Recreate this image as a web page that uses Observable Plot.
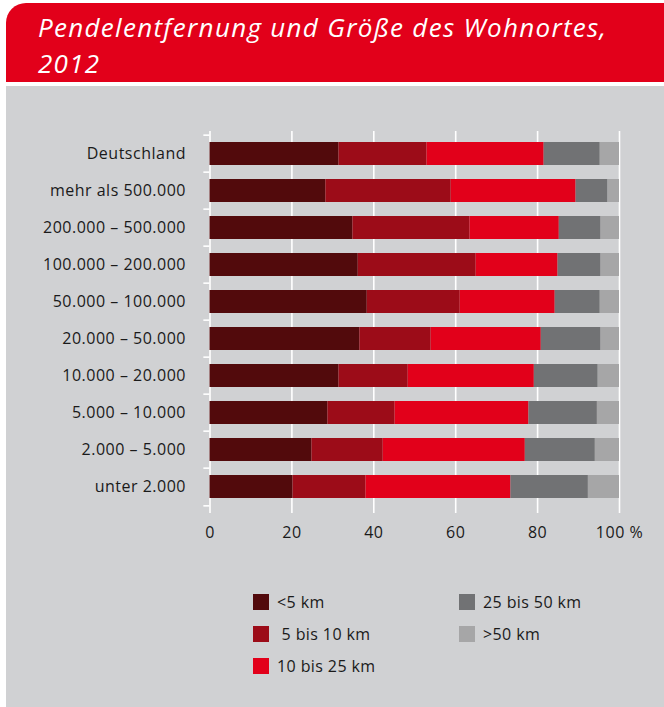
<!DOCTYPE html>
<html>
<head>
<meta charset="utf-8">
<script src="https://cdn.jsdelivr.net/npm/d3@7"></script>
<script src="https://cdn.jsdelivr.net/npm/@observablehq/plot@0.6"></script>
<style>
  html, body { margin: 0; padding: 0; background: #ffffff; }
  #page { position: relative; width: 664px; height: 707px; overflow: hidden; font-family: "Open Sans", sans-serif; }
  #header { position: absolute; left: 6px; top: 3px; width: 658px; height: 79px; background: #e2001a; border-top-left-radius: 20px; }
  .title { position: absolute; left: 38px; color: #ffffff; font-style: italic; font-size: 26px; line-height: normal; letter-spacing: 1.3px; font-family: "Open Sans", sans-serif; margin: 0; font-weight: normal; white-space: nowrap; }
  #panel { position: absolute; left: 6px; top: 86px; width: 658px; height: 621px; background: #d0d1d3; }
  #chart { position: absolute; left: 0; top: 0; }
  .leg { position: absolute; display: flex; align-items: center; font-size: 16px; letter-spacing: 0.4px; color: #1a1a1a; white-space: pre; }
  .sw { width: 16px; height: 16px; margin-right: 8px; flex: none; }
</style>
</head>
<body>
<div id="page">
  <div id="header"></div>
  <div class="title" style="top: 8.5px;">Pendelentfernung und Größe des Wohnortes,</div>
  <div class="title" style="top: 44.5px;">2012</div>
  <div id="panel"></div>
  <div id="chart"></div>
</div>
<script>
const categories = ["Deutschland", "mehr als 500.000", "200.000 – 500.000", "100.000 – 200.000", "50.000 – 100.000", "20.000 – 50.000", "10.000 – 20.000", "5.000 – 10.000", "2.000 – 5.000", "unter 2.000"];
const series = ["<5 km", " 5 bis 10 km", "10 bis 25 km", "25 bis 50 km", ">50 km"];
const colors = ["#520a0c", "#9c0c18", "#e2001a", "#717274", "#a6a6a7"];
const under5 = [31.5, 28.3, 34.9, 36.2, 38.4, 36.6, 31.5, 28.8, 24.9, 20.3];
const from5to10 = [21.5, 30.6, 28.6, 28.8, 22.7, 17.4, 16.9, 16.4, 17.4, 17.8];
const from10to25 = [28.6, 30.5, 21.8, 20.0, 23.2, 26.9, 30.8, 32.7, 34.7, 35.4];
const from25to50 = [13.7, 7.8, 10.2, 10.5, 11.0, 14.6, 15.6, 16.7, 17.1, 18.9];
const over50 = [4.7, 2.8, 4.5, 4.5, 4.7, 4.5, 5.2, 5.4, 5.9, 7.6];
const xTicks = [0, 20, 40, 60, 80, 100];
const xTickLabels = ["0", "20", "40", "60", "80", "100 %"];

const seriesValues = [under5, from5to10, from10to25, from25to50, over50];
const data = [];
categories.forEach((c, i) => {
  series.forEach((s, j) => data.push({category: c, series: s, value: seriesValues[j][i]}));
});

const W = 664, H = 560, mT = 131, mB = 52, mL = 209.5, mR = 45;
const step = (H - mT - mB) / categories.length;
const ink = "#1a1a1a";

const chart = Plot.plot({
  width: W, height: H,
  marginTop: mT, marginBottom: mB, marginLeft: mL, marginRight: mR,
  style: {fontFamily: "Open Sans", fontSize: "16px", letterSpacing: "0.5px", background: "transparent", color: ink, overflow: "visible"},
  x: {domain: [0, 100]},
  y: {domain: categories, paddingInner: 0.39, paddingOuter: 0.195},
  color: {domain: series, range: colors},
  marks: [
    Plot.gridX({ticks: xTicks, stroke: "#ffffff", strokeOpacity: 1, strokeWidth: 1.6}),
    Plot.axisX({ticks: xTicks, tickSize: 5, tickPadding: 13, stroke: "#ffffff", strokeWidth: 1.6, fill: ink, fontSize: 16,
      tickFormat: d => xTickLabels[xTicks.indexOf(d)], label: null}),
    Plot.ruleY(categories, {y: d => d, x1: -1.5, x2: 0, dy: -step / 2, stroke: "#ffffff", strokeWidth: 1.6}),
    Plot.ruleY(categories.slice(-1), {y: d => d, x1: -1.5, x2: 0, dy: step / 2, stroke: "#ffffff", strokeWidth: 1.6}),
    Plot.barX(data, Plot.stackX({y: "category", x: "value", fill: "series", order: null})),
    Plot.axisY({tickSize: 0, tickPadding: 24, fill: ink, fontSize: 16, label: null})
  ]
});
document.getElementById("chart").appendChild(chart);

const legPos = [[253, 591], [253, 623], [253, 655], [459, 591], [459, 623]];
const page = document.getElementById("page");
series.forEach((s, i) => {
  const d = document.createElement("div");
  d.className = "leg";
  d.style.left = legPos[i][0] + "px";
  d.style.top = legPos[i][1] + "px";
  const sw = document.createElement("span");
  sw.className = "sw";
  sw.style.background = colors[i];
  const t = document.createElement("span");
  t.textContent = s;
  d.appendChild(sw); d.appendChild(t);
  page.appendChild(d);
});
</script>
</body>
</html>
